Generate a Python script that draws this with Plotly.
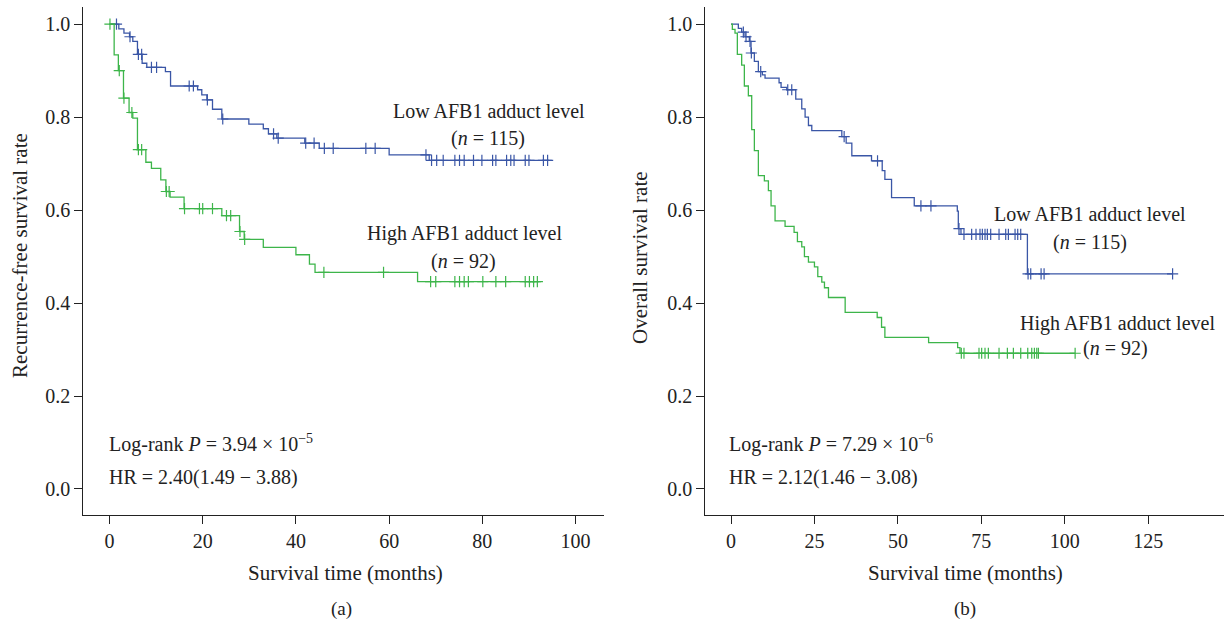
import plotly.graph_objects as go

# ---------------- data ----------------
# Panel (a): recurrence-free survival
low_rfs_t = [0, 2.0, 3.1, 4.3, 5.0, 6.0, 7.0, 8.0, 12.0, 13.1, 18.9, 19.8, 20.9, 22.1, 24.1,
             29.9, 33.0, 34.1, 35.9, 41.9, 45.0, 60.0, 68.6]
low_rfs_s = [1.0, 0.990, 0.981, 0.973, 0.963, 0.935, 0.916, 0.907, 0.898, 0.867, 0.859, 0.848,
             0.837, 0.817, 0.796, 0.785, 0.775, 0.764, 0.755, 0.744, 0.733, 0.719, 0.707]
low_rfs_end = 94.9
low_rfs_cens = [1.5, 4.4, 6.2, 6.9, 9.0, 10.1, 17.1, 18.0, 21.0, 24.3, 35.2, 36.2, 42.1, 43.9,
                46.1, 48.0, 55.0, 57.0, 67.9, 69.1, 70.2, 71.6, 74.1, 75.1, 76.1, 78.1, 79.9,
                82.2, 82.9, 85.2, 86.1, 86.8, 89.2, 90.0, 93.1, 94.0]

high_rfs_t = [0, 1.0, 1.9, 3.0, 4.2, 5.0, 6.0, 7.8, 9.0, 11.0, 12.1, 13.0, 16.0, 24.1, 27.9,
              28.9, 33.0, 40.0, 42.9, 44.1, 66.1]
high_rfs_s = [1.0, 0.934, 0.900, 0.841, 0.810, 0.798, 0.730, 0.703, 0.690, 0.665, 0.640, 0.628,
              0.603, 0.588, 0.554, 0.537, 0.520, 0.504, 0.484, 0.466, 0.446]
high_rfs_end = 92.6
high_rfs_cens = [0.1, 2.1, 3.1, 4.8, 6.2, 6.9, 12.2, 12.8, 16.1, 19.3, 20.0, 22.1, 25.1, 26.0,
                 28.0, 29.0, 46.0, 58.8, 68.9, 70.0, 74.1, 75.1, 76.1, 77.0, 80.1, 82.9, 85.0,
                 89.2, 90.1, 91.0, 91.8]

# Panel (b): overall survival
low_os_t = [0, 2.2, 3.2, 4.2, 5.5, 6.0, 7.0, 8.2, 9.4, 10.2, 14.4, 15.0, 16.7, 19.4, 21.2, 22.2,
            23.2, 24.2, 33.2, 34.5, 36.2, 42.1, 45.3, 46.1, 48.1, 54.9, 67.8, 68.1, 68.9, 88.8]
low_os_s = [1.0, 0.991, 0.983, 0.973, 0.963, 0.938, 0.920, 0.898, 0.891, 0.884, 0.874, 0.864,
            0.859, 0.839, 0.818, 0.800, 0.782, 0.771, 0.758, 0.744, 0.717, 0.706, 0.685, 0.666,
            0.627, 0.609, 0.598, 0.560, 0.548, 0.463]
low_os_end = 132.3
low_os_cens = [3.7, 4.5, 5.7, 6.1, 8.9, 17.0, 18.2, 33.9, 43.9, 56.9, 59.9, 68.3, 69.8, 72.1,
               73.4, 74.6, 75.3, 76.1, 76.8, 77.8, 80.3, 82.3, 83.1, 85.1, 85.9, 86.8, 89.0,
               89.8, 92.9, 93.8, 132.3]

high_os_t = [0, 0.4, 1.2, 1.9, 3.2, 4.0, 5.2, 6.2, 7.0, 8.2, 10.0, 11.2, 12.0, 13.2, 16.2, 18.9,
             19.9, 21.2, 22.0, 23.2, 25.0, 26.0, 27.2, 28.0, 29.2, 34.2, 43.8, 45.1, 46.1, 59.2,
             67.9, 68.6]
high_os_s = [1.0, 0.989, 0.981, 0.935, 0.912, 0.867, 0.846, 0.773, 0.728, 0.674, 0.663, 0.642,
             0.609, 0.577, 0.565, 0.552, 0.532, 0.521, 0.500, 0.488, 0.478, 0.457, 0.445, 0.433,
             0.412, 0.380, 0.369, 0.348, 0.326, 0.315, 0.304, 0.292]
high_os_end = 103.1
high_os_cens = [69.0, 69.8, 74.3, 75.1, 76.1, 77.1, 80.3, 82.8, 84.6, 86.8, 88.9, 90.1, 90.9,
                91.6, 92.1, 103.1]

y_ticks = [0.0, 0.2, 0.4, 0.6, 0.8, 1.0]
y_ticktext = ["0.0", "0.2", "0.4", "0.6", "0.8", "1.0"]
x_ticks_a = [0, 20, 40, 60, 80, 100]
x_ticks_b = [0, 25, 50, 75, 100, 125]

BLUE = "#3a56a6"
GREEN = "#3db54a"
FONT = "Liberation Serif"
W, H = 1226, 627


def surv_at(times, surv, t):
    val = surv[0]
    for ti, si in zip(times, surv):
        if ti <= t:
            val = si
    return val


fig = go.Figure()


def add_curve(times, surv, end, cens, color, xa, ya):
    fig.add_trace(go.Scatter(
        x=list(times) + [end], y=list(surv) + [surv[-1]],
        mode="lines", line=dict(color=color, width=1.3, shape="hv"),
        xaxis=xa, yaxis=ya, showlegend=False, hoverinfo="skip"))
    fig.add_trace(go.Scatter(
        x=cens, y=[surv_at(times, surv, c) for c in cens],
        mode="markers",
        marker=dict(symbol="cross-thin", size=8, line=dict(color=color, width=1.2)),
        xaxis=xa, yaxis=ya, showlegend=False, hoverinfo="skip"))


add_curve(low_rfs_t, low_rfs_s, low_rfs_end, low_rfs_cens, BLUE, "x", "y")
add_curve(high_rfs_t, high_rfs_s, high_rfs_end, high_rfs_cens, GREEN, "x", "y")
add_curve(low_os_t, low_os_s, low_os_end, low_os_cens, BLUE, "x2", "y2")
add_curve(high_os_t, high_os_s, high_os_end, high_os_cens, GREEN, "x2", "y2")

ydom = [1 - 514.5 / H, 1 - 7 / H]
axis_common = dict(showline=True, linecolor="#222", linewidth=1, ticks="outside",
                   ticklen=8, tickcolor="#222", tickwidth=1, showgrid=False,
                   zeroline=False, tickfont=dict(family=FONT, size=20, color="#222"))

fig.update_layout(
    width=W, height=H, margin=dict(l=0, r=0, t=0, b=0),
    paper_bgcolor="white", plot_bgcolor="white",
    xaxis=dict(domain=[83.3 / W, 604 / W], range=[-5.62, 106.1], tickvals=x_ticks_a,
               anchor="y", **axis_common),
    yaxis=dict(domain=ydom, range=[-0.0549, 1.037], tickvals=y_ticks, ticktext=y_ticktext,
               anchor="x", **axis_common),
    xaxis2=dict(domain=[705.3 / W, 1224 / W], range=[-7.7, 147.7], tickvals=x_ticks_b,
                anchor="y2", **axis_common),
    yaxis2=dict(domain=ydom, range=[-0.0549, 1.037], tickvals=y_ticks, ticktext=y_ticktext,
                anchor="x2", **axis_common),
)


def ann(text, px, py, size=20, xanchor="center", angle=0):
    fig.add_annotation(text=text, x=px / W, y=1 - py / H, xref="paper", yref="paper",
                       showarrow=False, xanchor=xanchor, yanchor="middle", textangle=angle,
                       font=dict(family=FONT, size=size, color="#222"))


# curve labels
ann("Low AFB1 adduct level", 489, 111)
ann("(<i>n</i> = 115)", 488, 139)
ann("High AFB1 adduct level", 464, 233)
ann("(<i>n</i> = 92)", 463, 261)
ann("Low AFB1 adduct level", 1090, 214)
ann("(<i>n</i> = 115)", 1090, 242)
ann("High AFB1 adduct level", 1117, 323)
ann("(<i>n</i> = 92)", 1115, 348)

# statistics
ann("Log-rank <i>P</i> = 3.94 × 10<sup>−5</sup>", 107, 443, xanchor="left")
ann("HR = 2.40(1.49 − 3.88)", 107, 477, xanchor="left")
ann("Log-rank <i>P</i> = 7.29 × 10<sup>−6</sup>", 727, 443, xanchor="left")
ann("HR = 2.12(1.46 − 3.08)", 727, 477, xanchor="left")

# axis titles and panel labels
ann("Recurrence-free survival rate", 20, 256, size=21, angle=-90)
ann("Overall survival rate", 640, 258, size=21, angle=-90)
ann("Survival time (months)", 345, 573, size=21)
ann("Survival time (months)", 965, 573, size=21)
ann("(a)", 341, 609, size=19)
ann("(b)", 965, 609, size=19)

fig.write_html("out.html")
